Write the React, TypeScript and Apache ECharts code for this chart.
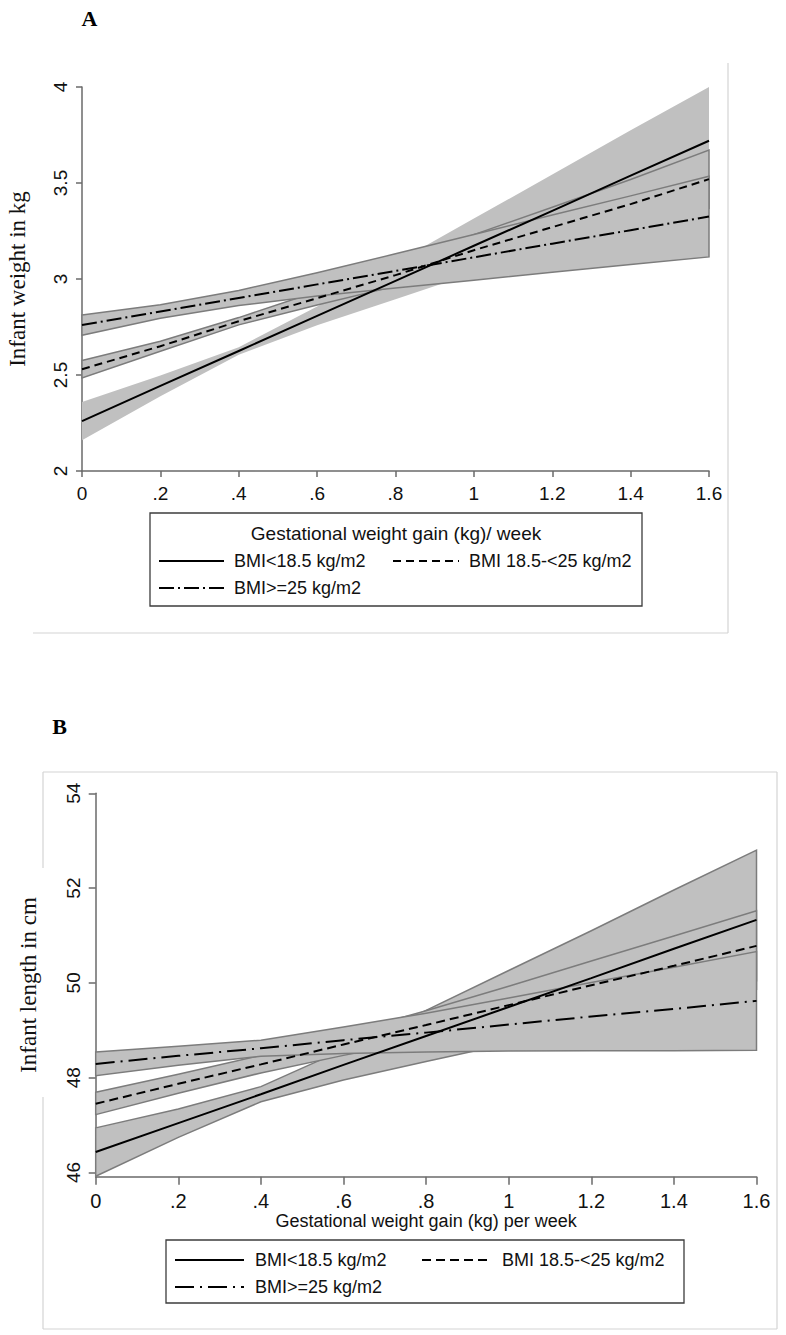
import React, { useEffect, useRef } from "react";
import * as echarts from "echarts";

// Gestational weight gain (kg/week) at which the fitted values are evaluated
const X = [0, 0.2, 0.4, 0.6, 0.8, 1.0, 1.2, 1.4, 1.6];

// Legend names
const GROUPS = ["BMI<18.5 kg/m2", "BMI 18.5-<25 kg/m2", "BMI>=25 kg/m2"];

// Panel A - infant weight (kg): linear fits with 95% CI
const wUnderFit = [2.26, 2.443, 2.625, 2.808, 2.99, 3.173, 3.355, 3.538, 3.72];
const wUnderLo = [2.16, 2.389, 2.605, 2.759, 2.895, 3.031, 3.166, 3.301, 3.44];
const wUnderHi = [2.36, 2.497, 2.645, 2.857, 3.085, 3.315, 3.544, 3.775, 4.0];
const wNormalFit = [2.53, 2.65, 2.78, 2.9, 3.02, 3.15, 3.27, 3.39, 3.52];
const wNormalLo = [2.484, 2.624, 2.761, 2.865, 2.963, 3.069, 3.166, 3.262, 3.368];
const wNormalHi = [2.576, 2.676, 2.799, 2.935, 3.077, 3.231, 3.374, 3.518, 3.672];
const wOverFit = [2.76, 2.831, 2.901, 2.972, 3.042, 3.113, 3.184, 3.254, 3.325];
const wOverLo = [2.707, 2.796, 2.862, 2.911, 2.953, 2.994, 3.035, 3.075, 3.115];
const wOverHi = [2.813, 2.866, 2.94, 3.033, 3.131, 3.232, 3.333, 3.433, 3.535];

// Panel B - infant length (cm): linear fits with 95% CI
const lUnderFit = [46.43, 47.04, 47.65, 48.27, 48.88, 49.49, 50.1, 50.72, 51.33];
const lUnderLo = [45.92, 46.74, 47.49, 47.95, 48.34, 48.72, 49.1, 49.48, 49.86];
const lUnderHi = [46.94, 47.34, 47.81, 48.59, 49.42, 50.26, 51.1, 51.96, 52.8];
const lNormalFit = [47.45, 47.87, 48.28, 48.7, 49.11, 49.53, 49.95, 50.36, 50.78];
const lNormalLo = [47.22, 47.67, 48.1, 48.47, 48.81, 49.13, 49.44, 49.74, 50.04];
const lNormalHi = [47.69, 48.07, 48.47, 48.93, 49.41, 49.93, 50.46, 50.99, 51.52];
const lOverFit = [48.29, 48.46, 48.62, 48.79, 48.95, 49.12, 49.29, 49.45, 49.62];
const lOverLo = [48.04, 48.26, 48.45, 48.51, 48.54, 48.56, 48.57, 48.57, 48.58];
const lOverHi = [48.54, 48.66, 48.79, 49.07, 49.36, 49.68, 50.01, 50.33, 50.66];
const L_TICKS = [46, 48, 50, 52, 54];

const SANS = '"Liberation Sans", Arial, sans-serif';
const SERIF = '"Liberation Serif", "Times New Roman", serif';
const BAND_FILL = "#c0c0c0";
const BAND_EDGE = "#7c7c7c";
const AXIS_COLOR = "#6a6a6a";
const FRAME = "#d4d4d4";

const DASH_A = [8, 5];
const DASHDOT_A = [15, 4, 2, 4];
const DASH_B = [9, 5];
const DASHDOT_B = [19, 6, 2, 6];

function fmtX(v: number) {
  const r = Math.round(v * 10) / 10;
  if (r === 0) return "0";
  if (r < 1) return String(r).slice(1);
  return String(r);
}

function band(xi: number, lo: number[], hi: number[], edge: boolean) {
  return {
    type: "custom",
    xAxisIndex: xi,
    yAxisIndex: xi,
    silent: true,
    z: 1,
    data: X.map((x, i) => [x, lo[i], hi[i]]),
    encode: { x: 0, y: [1, 2] },
    renderItem: (params: any, api: any) => {
      if (params.dataIndex !== 0) return { type: "group", children: [] };
      const top = X.map((x, i) => api.coord([x, hi[i]]));
      const bottom = X.map((x, i) => api.coord([x, lo[i]])).reverse();
      return {
        type: "polygon",
        shape: { points: top.concat(bottom) },
        style: {
          fill: BAND_FILL,
          stroke: edge ? BAND_EDGE : "none",
          lineWidth: edge ? 1.5 : 0,
        },
      };
    },
  };
}

function fit(name: string, xi: number, values: number[], dash: any, width: number) {
  return {
    type: "line",
    name,
    xAxisIndex: xi,
    yAxisIndex: xi,
    silent: true,
    z: 3,
    symbol: "none",
    showSymbol: false,
    data: X.map((x, i) => [x, values[i]]),
    itemStyle: { color: "#000" },
    lineStyle: { color: "#000", width, type: dash },
  };
}

function legendItem(name: string, left: number, top: number, iconW: number, fontSize: number, pad: number, dash: any) {
  return {
    data: [{ name, itemStyle: { opacity: 0 } }],
    left,
    top,
    padding: 0,
    itemWidth: iconW,
    itemHeight: 14,
    selectedMode: false,
    itemStyle: { opacity: 0 },
    lineStyle: { type: dash, width: 2, color: "#000", opacity: 1 },
    textStyle: {
      fontFamily: SANS,
      fontSize,
      color: "#111",
      lineHeight: 20,
      padding: [0, 0, 0, pad],
    },
  };
}

function xAxisDef(gridIndex: number, fontSize: number, margin: number, tickLen: number, name?: string) {
  return {
    type: "value",
    gridIndex,
    min: 0,
    max: 1.6,
    interval: 0.2,
    name: name || "",
    nameLocation: "middle",
    nameGap: 33,
    nameTextStyle: { fontFamily: SANS, fontSize: 18, color: "#111" },
    axisLine: { show: true, onZero: false, lineStyle: { color: AXIS_COLOR, width: 1.5 } },
    axisTick: { show: true, length: tickLen, lineStyle: { color: AXIS_COLOR, width: 1.5 } },
    axisLabel: {
      show: true,
      margin,
      fontFamily: SANS,
      fontSize,
      color: "#111",
      formatter: fmtX,
      showMinLabel: true,
      showMaxLabel: true,
    },
    splitLine: { show: false },
  };
}

export default function App() {
  const ref = useRef<HTMLDivElement>(null);

  useEffect(() => {
    if (!ref.current) return;
    const chart = echarts.init(ref.current, undefined, { renderer: "svg" });

    const option: any = {
      animation: false,
      backgroundColor: "#ffffff",
      grid: [
        { left: 82, top: 87, right: 77, bottom: 864, containLabel: false, outerBoundsMode: "none" },
        { left: 95.7, top: 793.3, right: 29.5, bottom: 158.3, containLabel: false, outerBoundsMode: "none" },
      ],
      xAxis: [
        xAxisDef(0, 19, 13, 6),
        xAxisDef(1, 20, 14, 8, "Gestational weight gain (kg) per week"),
      ],
      yAxis: [
        {
          type: "value",
          gridIndex: 0,
          min: 2,
          max: 4,
          interval: 0.5,
          name: "Infant weight in kg",
          nameLocation: "middle",
          nameRotate: 90,
          nameGap: 53,
          nameTextStyle: { fontFamily: SERIF, fontSize: 23, color: "#111" },
          axisLine: { show: true, onZero: false, lineStyle: { color: AXIS_COLOR, width: 1.5 } },
          axisTick: { show: true, length: 6, lineStyle: { color: AXIS_COLOR, width: 1.5 } },
          axisLabel: {
            show: true,
            rotate: 90,
            margin: 12,
            fontFamily: SANS,
            fontSize: 19,
            color: "#111",
            formatter: (v: number) => String(Math.round(v * 10) / 10),
          },
          splitLine: { show: false },
        },
        {
          type: "value",
          gridIndex: 1,
          min: 45.91,
          max: 54,
          name: "Infant length in cm",
          nameLocation: "middle",
          nameRotate: 90,
          nameGap: 56,
          nameTextStyle: { fontFamily: SERIF, fontSize: 23, color: "#111" },
          axisLine: { show: true, onZero: false, lineStyle: { color: AXIS_COLOR, width: 1.5 } },
          axisTick: { show: true, length: 7, customValues: L_TICKS, lineStyle: { color: AXIS_COLOR, width: 1.5 } },
          axisLabel: {
            show: true,
            rotate: 90,
            margin: 13,
            fontFamily: SANS,
            fontSize: 19,
            color: "#111",
            customValues: L_TICKS,
            formatter: (v: number) => String(Math.round(v)),
          },
          splitLine: { show: false },
        },
      ],
      legend: [
        legendItem(GROUPS[0], 158, 551, 65, 18, 5, "solid"),
        legendItem(GROUPS[1], 392, 551, 66, 18, 5, DASH_A),
        legendItem(GROUPS[2], 158, 578, 65, 18, 5, DASHDOT_A),
        legendItem(GROUPS[0], 174, 1250, 69, 18, 6, "solid"),
        legendItem(GROUPS[1], 421, 1250, 66, 18, 9, DASH_B),
        legendItem(GROUPS[2], 174, 1277, 69, 18, 6, DASHDOT_B),
      ],
      graphic: [
        // panel letters
        {
          type: "text",
          style: { text: "A", x: 89.5, y: 18, align: "center", verticalAlign: "middle", textAlign: "center", textVerticalAlign: "middle", font: `bold 22px ${SERIF}`, fill: "#000" },
        },
        {
          type: "text",
          style: { text: "B", x: 59.5, y: 726, align: "center", verticalAlign: "middle", textAlign: "center", textVerticalAlign: "middle", font: `bold 22px ${SERIF}`, fill: "#000" },
        },
        // panel A frame
        { type: "line", shape: { x1: 728, y1: 63, x2: 728, y2: 633 }, style: { stroke: FRAME, lineWidth: 1.2 } },
        { type: "line", shape: { x1: 33, y1: 633, x2: 728, y2: 633 }, style: { stroke: FRAME, lineWidth: 1.2 } },
        // panel B frame
        { type: "line", shape: { x1: 43, y1: 772, x2: 777, y2: 772 }, style: { stroke: FRAME, lineWidth: 1.2 } },
        { type: "line", shape: { x1: 777, y1: 772, x2: 777, y2: 1329 }, style: { stroke: FRAME, lineWidth: 1.2 } },
        { type: "line", shape: { x1: 43, y1: 1329, x2: 777, y2: 1329 }, style: { stroke: FRAME, lineWidth: 1.2 } },
        { type: "line", shape: { x1: 43, y1: 772, x2: 43, y2: 868 }, style: { stroke: FRAME, lineWidth: 1.2 } },
        { type: "line", shape: { x1: 43, y1: 1097, x2: 43, y2: 1329 }, style: { stroke: FRAME, lineWidth: 1.2 } },
        // legend boxes
        { type: "rect", shape: { x: 150, y: 513, width: 492, height: 93 }, style: { fill: "none", stroke: "#3c3c3c", lineWidth: 1.3 } },
        { type: "rect", shape: { x: 166, y: 1240, width: 518, height: 63 }, style: { fill: "none", stroke: "#3c3c3c", lineWidth: 1.3 } },
        {
          type: "text",
          style: {
            text: "Gestational weight gain (kg)/ week",
            x: 396,
            y: 533,
            align: "center",
            verticalAlign: "middle",
            textAlign: "center",
            textVerticalAlign: "middle",
            font: `19px ${SANS}`,
            fill: "#111",
          },
        },
      ],
      series: [
        band(0, wUnderLo, wUnderHi, false),
        band(0, wNormalLo, wNormalHi, true),
        band(0, wOverLo, wOverHi, true),
        fit(GROUPS[0], 0, wUnderFit, "solid", 2),
        fit(GROUPS[1], 0, wNormalFit, DASH_A, 2),
        fit(GROUPS[2], 0, wOverFit, DASHDOT_A, 2),
        band(1, lUnderLo, lUnderHi, true),
        band(1, lNormalLo, lNormalHi, true),
        band(1, lOverLo, lOverHi, true),
        fit(GROUPS[0], 1, lUnderFit, "solid", 2),
        fit(GROUPS[1], 1, lNormalFit, DASH_B, 2),
        fit(GROUPS[2], 1, lOverFit, DASHDOT_B, 2),
      ],
    };

    chart.setOption(option);
    return () => chart.dispose();
  }, []);

  return (
    <div
      ref={ref}
      style={{ position: "absolute", left: 0, top: 0, width: 786, height: 1335, background: "#fff" }}
    />
  );
}
